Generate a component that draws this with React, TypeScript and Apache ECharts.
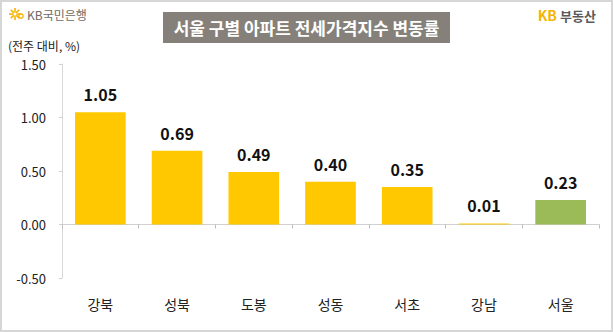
import React, { useEffect, useRef } from "react";
import * as echarts from "echarts";

const categories = ["강북", "성북", "도봉", "성동", "서초", "강남", "서울"];
const values = [1.05, 0.69, 0.49, 0.4, 0.35, 0.01, 0.23];
const barColors = ["#FFC800", "#FFC800", "#FFC800", "#FFC800", "#FFC800", "#FFC800", "#9BBB59"];
const yMin = -0.5;
const yMax = 1.5;
const yInterval = 0.5;
const titleText = "서울 구별 아파트 전세가격지수 변동률";
const unitText = "(전주 대비, %)";

const FONT = "'Noto Sans CJK KR', 'Noto Sans', sans-serif";

export default function App() {
  const ref = useRef<HTMLDivElement>(null);
  useEffect(() => {
    document.body.style.margin = "0";
    const chart = echarts.init(ref.current!, null, { renderer: "svg" });
    const starLines = [0, 45, 90, 135, 180, 225, 270, 315].map((deg) => {
      const r = (deg * Math.PI) / 180;
      const cx = 15, cy = 14;
      return {
        type: "line",
        shape: { x1: cx + Math.cos(r) * 1.5, y1: cy + Math.sin(r) * 1.5, x2: cx + Math.cos(r) * 6, y2: cy + Math.sin(r) * 6 },
        style: { stroke: "#F5B400", lineWidth: 1.6 },
      };
    });
    chart.setOption({
      animation: false,
      textStyle: { fontFamily: FONT },
      graphic: [
        { type: "rect", shape: { x: 1, y: 1, width: 611, height: 330 }, style: { fill: "none", stroke: "#d6d6d6", lineWidth: 2 } },
        ...starLines,
        { type: "circle", shape: { cx: 21, cy: 16, r: 2.2 }, style: { fill: "none", stroke: "#F5B400", lineWidth: 1.3 } },
        { type: "text", x: 27, y: 14, style: { text: "KB국민은행", fill: "#6e6a66", font: `12px ${FONT}`, verticalAlign: "middle" } },
        { type: "rect", shape: { x: 163, y: 12, width: 287, height: 31 }, style: { fill: "#85817a" } },
        { type: "text", x: 306.5, y: 27.5, style: { text: titleText, fill: "#ffffff", font: `bold 17px ${FONT}`, align: "center", verticalAlign: "middle" } },
        {
          type: "text", x: 596, y: 15,
          style: {
            text: "{a|KB} {b|부동산}", align: "right", verticalAlign: "middle",
            rich: {
              a: { fill: "#F5B400", font: `bold 14px ${FONT}` },
              b: { fill: "#5a5a5a", font: `bold 13px ${FONT}` },
            },
          },
        },
        { type: "text", x: 8, y: 45, style: { text: unitText, fill: "#222", font: `12px ${FONT}`, verticalAlign: "middle" } },
      ],
      grid: { left: 62, right: 14, top: 64, bottom: 54, containLabel: false, outerBoundsMode: "none" },
      xAxis: {
        type: "category",
        data: categories,
        axisLine: { onZero: true, lineStyle: { color: "#d0d0d0", width: 1 } },
        axisTick: { show: true, alignWithLabel: false, length: 4, lineStyle: { color: "#bdbdbd" } },
        axisLabel: {
          interval: 0,
          margin: 19,
          color: "#222",
          fontSize: 14,
          fontFamily: FONT,
        },
      },
      yAxis: {
        type: "value",
        min: yMin,
        max: yMax,
        interval: yInterval,
        axisLine: { show: true, lineStyle: { color: "#d8d8d8" } },
        axisTick: { show: true, length: 3, lineStyle: { color: "#cfcfcf" } },
        splitLine: { show: false },
        axisLabel: {
          formatter: (v: number) => v.toFixed(2),
          color: "#222",
          fontSize: 13,
          margin: 16,
          fontFamily: FONT,
        },
      },
      series: [
        {
          type: "bar",
          barWidth: "66%",
          data: values.map((v, i) => ({ value: v, itemStyle: { color: barColors[i] } })),
          label: {
            show: true,
            position: "top",
            distance: 10,
            formatter: (p: any) => p.value.toFixed(2),
            color: "#111",
            fontWeight: "bold",
            fontSize: 16,
            fontFamily: FONT,
          },
        },
      ],
    });
    return () => chart.dispose();
  }, []);
  return <div ref={ref} style={{ width: 613, height: 332 }} />;
}
